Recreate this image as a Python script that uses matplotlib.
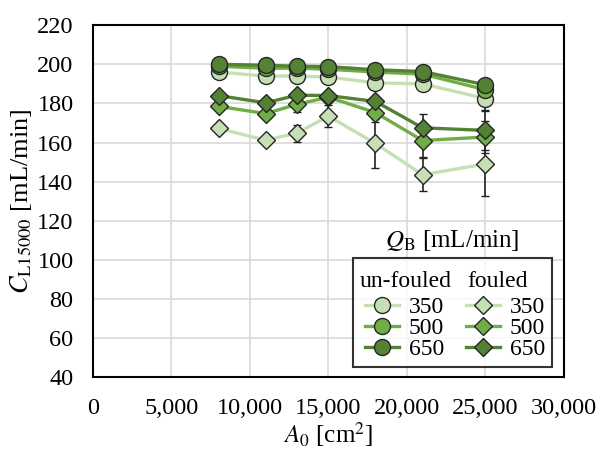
import matplotlib
matplotlib.use("Agg")
import matplotlib.pyplot as plt
from matplotlib.lines import Line2D
from matplotlib.ticker import FuncFormatter

plt.rcParams['font.family'] = ['Liberation Serif', 'DejaVu Serif']
plt.rcParams['mathtext.fontset'] = 'stix'

# Data
area = [8000, 11000, 13000, 15000, 18000, 21000, 25000]
uf_350 = [196, 194, 194, 193.5, 190.5, 190, 182.5]
uf_500 = [199, 198, 198, 197.5, 196, 195, 187]
uf_650 = [200, 199.5, 199, 198.8, 197.2, 196.3, 189.5]
f_350 = [167.2, 161.2, 164.8, 173.5, 159.5, 143.5, 149]
f_500 = [178.5, 174.8, 179.5, 183.2, 175.3, 161, 162.8]
f_650 = [184, 180.3, 184.2, 184, 181, 167.5, 166.2]
uf_350_err = [1, 1, 1, 1, 2, 2, 6]
uf_500_err = [1, 1, 1, 1, 1, 1, 2]
uf_650_err = [1, 1, 1, 1, 1, 1, 2]
f_350_err = [1, 1, 4.3, 5.8, 12.5, 8.5, 16.5]
f_500_err = [1, 1, 3.8, 2, 5, 8.5, 8]
f_650_err = [1, 1, 1, 2, 2, 6.9, 10]
flows = ["350", "500", "650"]

colors = ['#c5e0b4', '#70ad47', '#548235']

fig = plt.figure(figsize=(5.96, 4.5), dpi=100)
ax = fig.add_axes([0.156, 0.162, 0.790, 0.782])

edge = '#262626'
lw = 2.4
ms_c = 11.5
ms_d = 9.5
fouled = [(f_350, f_350_err), (f_500, f_500_err), (f_650, f_650_err)]
unfouled = [(uf_350, uf_350_err), (uf_500, uf_500_err), (uf_650, uf_650_err)]

for (vals, err), c in zip(fouled, colors):
    ax.errorbar(area, vals, yerr=err, color=c, lw=lw, marker='D', ms=ms_d,
                mfc=c, mec=edge, mew=1.0, ecolor='#222222', elinewidth=1.2,
                capsize=3, capthick=1.2, zorder=3)
for (vals, err), c in zip(unfouled, colors):
    ax.errorbar(area, vals, yerr=err, color=c, lw=lw, marker='o', ms=ms_c,
                mfc=c, mec=edge, mew=1.0, ecolor='#222222', elinewidth=1.2,
                capsize=3, capthick=1.2, zorder=4)

ax.set_xlim(0, 30000)
ax.set_ylim(40, 220)
ax.set_xticks(range(0, 30001, 5000))
ax.set_yticks(range(40, 221, 20))
ax.xaxis.set_major_formatter(FuncFormatter(lambda v, p: f"{int(v):,}"))
ax.grid(True, color='#d9d9d9', lw=1.2)
ax.set_axisbelow(True)
ax.tick_params(length=0, labelsize=17.5)
ax.tick_params(axis='x', pad=15)
ax.tick_params(axis='y', pad=14)
for s in ax.spines.values():
    s.set_linewidth(1.5)
    s.set_color('black')

ax.set_xlabel(r"$A_0$ [cm$^2$]", fontsize=18, labelpad=1)
ax.set_ylabel(r"$C_{\mathrm{L15000}}$ [mL/min]", fontsize=19, labelpad=2)

# Legend
blank = Line2D([], [], linestyle='none')
handles = [blank]
labels = ['un-fouled']
for c, f in zip(colors, flows):
    handles.append(Line2D([], [], color=c, lw=lw, marker='o', ms=ms_c, mfc=c, mec=edge, mew=1.0))
    labels.append(f)
handles.append(blank)
labels.append('fouled')
for c, f in zip(colors, flows):
    handles.append(Line2D([], [], color=c, lw=lw, marker='D', ms=ms_d, mfc=c, mec=edge, mew=1.0))
    labels.append(f)

leg = ax.legend(handles, labels, ncol=2, loc='lower right',
                bbox_to_anchor=(0.975, 0.028), fontsize=17, frameon=True,
                fancybox=False, edgecolor='black', handlelength=1.45,
                handletextpad=0.4, columnspacing=0.15, labelspacing=-0.02,
                borderpad=0.3, borderaxespad=0)
leg.get_frame().set_linewidth(1.5)
hpad = 3.8
for i, col in enumerate(leg._legend_handle_box.get_children()):
    hdr = col.get_children()[0]
    hdr.sep = 0
    hdr.pad = hpad
    shift = -hpad if i == 0 else -hpad + 5
    hdr.get_children()[0].width = shift

ax.text(0.762, 0.389, r"$Q_{\mathrm{B}}$ [mL/min]", transform=ax.transAxes,
        fontsize=18, ha='center', va='center')

fig.savefig("out.png", dpi=100)
